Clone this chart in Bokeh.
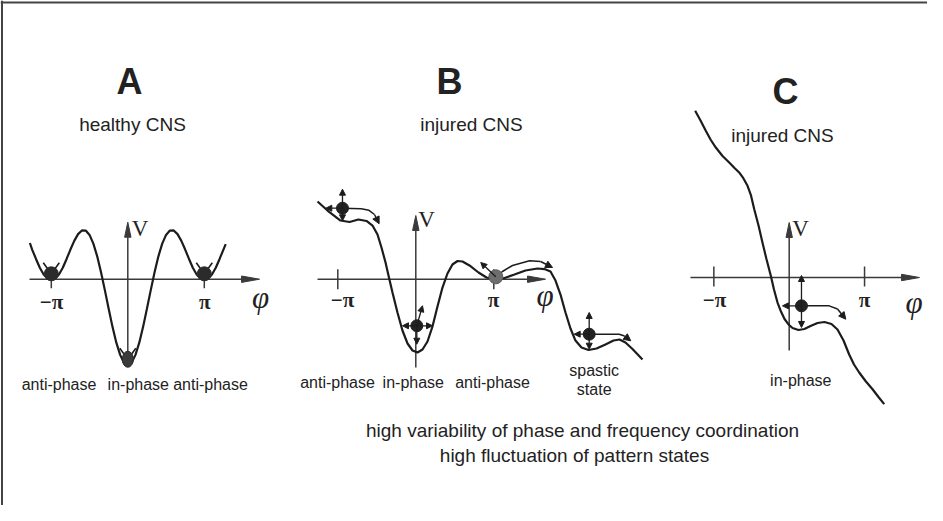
from bokeh.plotting import figure
from bokeh.models import Range1d, Arrow, NormalHead, Span
from bokeh.embed import file_html
from bokeh.resources import INLINE
from bokeh.core.properties import value

# ---------------- data (phi in units of pi, V in arbitrary units) ----------------
# Panel A: healthy CNS
A_phi = [-1.28, -1.25, -1.2, -1.15, -1.1, -1.05, -1.0, -0.95, -0.9, -0.85, -0.8, -0.75, -0.7,
         -0.65, -0.6, -0.55, -0.5, -0.45, -0.4, -0.35, -0.3, -0.25, -0.2, -0.15, -0.1, -0.05,
         0.0, 0.05, 0.1, 0.15, 0.2, 0.25, 0.3, 0.35, 0.4, 0.45, 0.5, 0.55, 0.6, 0.65, 0.7,
         0.75, 0.8, 0.85, 0.9, 0.95, 1.0, 1.05, 1.1, 1.15, 1.2, 1.25, 1.28]
A_V = [0.47, 0.385, 0.263, 0.148, 0.06, 0.01, 0.0, 0.01, 0.06, 0.148, 0.263, 0.385, 0.498,
       0.585, 0.633, 0.632, 0.575, 0.462, 0.297, 0.091, -0.142, -0.385, -0.619, -0.824, -0.983,
       -1.085, -1.12, -1.085, -0.983, -0.824, -0.619, -0.385, -0.142, 0.091, 0.297, 0.462,
       0.575, 0.632, 0.633, 0.585, 0.498, 0.385, 0.263, 0.148, 0.06, 0.01, 0.0, 0.01, 0.06,
       0.148, 0.263, 0.385, 0.456]
A_states_phi = [-1.0, 1.0]
A_states_V = [0.07, 0.07]
A_inphase_phi = [0.0]
A_inphase_V = [-1.04]

# Panel B: injured CNS
B_phi = [-1.26, -1.132, -0.965, -0.85, -0.735, -0.632, -0.555, -0.491, -0.44, -0.388, -0.35,
         -0.299, -0.235, -0.171, -0.106, -0.042, 0.022, 0.086, 0.15, 0.214, 0.278, 0.342,
         0.406, 0.47, 0.535, 0.599, 0.688, 0.804, 0.906, 1.022, 1.137, 1.265, 1.406, 1.56,
         1.65, 1.727, 1.791, 1.855, 1.919, 1.983, 2.047, 2.124, 2.214, 2.317, 2.432, 2.535,
         2.612, 2.688, 2.778, 2.906]
B_V = [1.009, 0.892, 0.762, 0.743, 0.775, 0.756, 0.697, 0.581, 0.412, 0.217, 0.048, -0.173,
       -0.432, -0.666, -0.835, -0.926, -0.952, -0.913, -0.809, -0.614, -0.355, -0.108, 0.074,
       0.191, 0.236, 0.23, 0.178, 0.087, 0.022, -0.004, 0.016, 0.061, 0.113, 0.139, 0.132,
       0.1, -0.017, -0.199, -0.432, -0.64, -0.797, -0.887, -0.919, -0.9, -0.848, -0.796,
       -0.783, -0.822, -0.906, -1.043]
B_balls_phi = [-0.94, 0.013, 2.223]
B_balls_V = [0.922, -0.605, -0.714]
B_grey_phi = [1.026]
B_grey_V = [0.031]
# perturbation arrows: start phi, start V, end phi, end V
B_arr_x0 = [-0.94, -0.94, -0.94, 0.013, 0.013, 0.013, 0.013, 1.026, 2.223, 2.223, 2.223]
B_arr_y0 = [0.922, 0.922, 0.922, -0.605, -0.605, -0.605, -0.605, 0.031, -0.714, -0.714, -0.714]
B_arr_x1 = [-0.94, -0.94, -1.154, -0.171, 0.214, 0.013, 0.086, 0.833, 2.223, 2.223, 2.031]
B_arr_y1 = [1.169, 0.758, 0.922, -0.605, -0.605, -0.844, -0.345, 0.217, -0.432, -0.909, -0.714]
# escape trajectories
B_traj1_phi = [-0.94, -0.70, -0.60, -0.53, -0.47]
B_traj1_V = [0.922, 0.915, 0.895, 0.84, 0.72]
B_traj2_phi = [1.026, 1.111, 1.24, 1.458, 1.60, 1.753]
B_traj2_V = [0.031, 0.10, 0.178, 0.239, 0.23, 0.152]
B_traj3_phi = [2.223, 2.608, 2.676, 2.756]
B_traj3_V = [-0.714, -0.714, -0.738, -0.80]

# Panel C: injured CNS
C_phi = [-1.248, -1.177, -1.107, -1.044, -0.974, -0.885, -0.796, -0.726, -0.664, -0.607,
         -0.553, -0.507, -0.464, -0.407, -0.355, -0.302, -0.244, -0.202, -0.155, -0.109,
         -0.062, -0.009, 0.044, 0.123, 0.202, 0.283, 0.376, 0.468, 0.561, 0.641, 0.721,
         0.796, 0.86, 0.929, 1.013, 1.106, 1.185, 1.261]
C_V = [2.165, 2.039, 1.905, 1.792, 1.688, 1.578, 1.494, 1.422, 1.364, 1.286, 1.191, 1.065,
       0.887, 0.675, 0.455, 0.24, 0.022, -0.156, -0.325, -0.442, -0.539, -0.61, -0.656,
       -0.682, -0.669, -0.63, -0.591, -0.578, -0.604, -0.675, -0.818, -1.0, -1.13, -1.234,
       -1.344, -1.451, -1.552, -1.645]
C_balls_phi = [0.163]
C_balls_V = [-0.368]
C_arr_x0 = [0.163, 0.163, 0.163]
C_arr_y0 = [-0.368, -0.368, -0.368]
C_arr_x1 = [0.163, 0.163, -0.089]
C_arr_y1 = [0.026, -0.649, -0.368]
C_traj_phi = [0.163, 0.531, 0.641, 0.751]
C_traj_V = [-0.368, -0.368, -0.409, -0.542]

tick_phi = [-1, 1]
tick_labels = ["\u2212\u03c0", "\u03c0"]

panel_letters = ["A", "B", "C"]
panel_titles = ["healthy CNS", "injured CNS", "injured CNS"]
A_state_labels = ["anti-phase", "in-phase", "anti-phase"]
B_state_labels = ["anti-phase", "in-phase", "anti-phase"]
B_spastic_label = ["spastic", "state"]
C_state_labels = ["in-phase"]
footer_lines = ["high variability of phase and frequency coordination",
                "high fluctuation of pattern states"]

# ---------------- layout / style ----------------
W, H = 927, 505
INK = "#1c1c1c"
AXC = "#3a3a3a"
TXT = "#222222"
SANS = "Liberation Sans"
SERIF = "Liberation Serif"

# panel geometry: pixel position of origin (in page coords) and pixels per unit
GEO = {
    "A": dict(ox=135.3, oy=286.7, sx=76.5, sy=77.0,
              hx=(-1.285, 1.722), vy=(-1.06, 0.74)),
    "B": dict(ox=423.3, oy=286.7, sx=78.0, sy=77.0,
              hx=(-1.26, 1.663), vy=(-1.147, 0.827)),
    "C": dict(ox=796.7, oy=285.0, sx=75.35, sy=77.0,
              hx=(-1.31, 1.729), vy=(-0.948, 0.714)),
}

p = figure(width=W, height=H, x_range=Range1d(8, 8 + W), y_range=Range1d(8 + H, 8),
           output_backend="svg", toolbar_location=None, min_border=0,
           x_axis_location=None, y_axis_location=None,
           outline_line_color=None, background_fill_color="white",
           border_fill_color="white")
p.grid.visible = False

for k, g in GEO.items():
    p.extra_x_ranges[k] = Range1d((8 - g["ox"]) / g["sx"], (8 + W - g["ox"]) / g["sx"])
    p.extra_y_ranges[k] = Range1d((g["oy"] - 8 - H) / g["sy"], (g["oy"] - 8) / g["sy"])

# page frame (top and left edges)
p.add_layout(Span(location=10, dimension="width", line_color="#444444", line_width=2))
p.add_layout(Span(location=9.5, dimension="height", line_color="#444444", line_width=2))


def axes(name):
    g = GEO[name]
    sx, sy = g["sx"], g["sy"]
    x0, x1 = g["hx"]
    v0, v1 = g["vy"]
    L, hw = 18.0, 3.2
    p.line([x0, x1 - L / sx], [0, 0], x_range_name=name, y_range_name=name,
           line_color=AXC, line_width=1.5)
    p.patch([x1, x1 - L / sx, x1 - L / sx], [0, hw / sy, -hw / sy],
            x_range_name=name, y_range_name=name, color=AXC, line_width=1)
    Lv = 15.0
    p.line([0, 0], [v0, v1 - Lv / sy], x_range_name=name, y_range_name=name,
           line_color=AXC, line_width=1.5)
    p.patch([0, hw / sx, -hw / sx], [v1, v1 - Lv / sy, v1 - Lv / sy],
            x_range_name=name, y_range_name=name, color=AXC, line_width=1)


def ticks(name, top, bottom):
    sy = GEO[name]["sy"]
    p.segment(x0=tick_phi, y0=[top / sy] * len(tick_phi), x1=tick_phi,
              y1=[-bottom / sy] * len(tick_phi), x_range_name=name, y_range_name=name,
              line_color=AXC, line_width=1.5)


def arrows(name, xs0, ys0, xs1, ys1, size=6):
    for a, b, c, d in zip(xs0, ys0, xs1, ys1):
        p.add_layout(Arrow(x_start=a, y_start=b, x_end=c, y_end=d,
                           x_range_name=name, y_range_name=name,
                           line_color=INK, line_width=1.3,
                           end=NormalHead(size=size, fill_color=INK, line_color=INK,
                                          line_width=1)))


def trajectory(name, xs, ys):
    p.line(xs[:-1], ys[:-1], x_range_name=name, y_range_name=name,
           line_color=INK, line_width=1.5)
    p.add_layout(Arrow(x_start=xs[-2], y_start=ys[-2], x_end=xs[-1], y_end=ys[-1],
                       x_range_name=name, y_range_name=name,
                       line_color=INK, line_width=1.5,
                       end=NormalHead(size=7, fill_color=INK, line_color=INK, line_width=1)))


for k in GEO:
    axes(k)
ticks("A", 0, 9)
ticks("B", 10, 10)
ticks("C", 11, 9)

# potential curves
p.line(A_phi, A_V, x_range_name="A", y_range_name="A", line_color=INK, line_width=2.2)
p.line(B_phi, B_V, x_range_name="B", y_range_name="B", line_color=INK, line_width=2.2)
p.line(C_phi, C_V, x_range_name="C", y_range_name="C", line_color=INK, line_width=2.2)

# panel A states (balls with small ears)
gA = GEO["A"]
ear_x0, ear_y0, ear_x1, ear_y1 = [], [], [], []
for bx, by in zip(A_states_phi + A_inphase_phi, A_states_V + A_inphase_V):
    for s in (-1, 1):
        ear_x0.append(bx + s * 3 / gA["sx"])
        ear_y0.append(by + 4 / gA["sy"])
        ear_x1.append(bx + s * 8 / gA["sx"])
        ear_y1.append(by + 11 / gA["sy"])
p.segment(ear_x0, ear_y0, ear_x1, ear_y1, x_range_name="A", y_range_name="A",
          line_color=INK, line_width=1.6)
p.scatter(A_states_phi, A_states_V, x_range_name="A", y_range_name="A", size=14,
          fill_color="#2b2b2b", line_color="#2b2b2b")
p.ellipse(x=A_inphase_phi, y=A_inphase_V, width=11, height=16, width_units="screen",
          height_units="screen", x_range_name="A", y_range_name="A",
          fill_color="#3a3a3a", line_color="#2b2b2b")

# panel B
arrows("B", B_arr_x0, B_arr_y0, B_arr_x1, B_arr_y1)
trajectory("B", B_traj1_phi, B_traj1_V)
trajectory("B", B_traj2_phi, B_traj2_V)
trajectory("B", B_traj3_phi, B_traj3_V)
p.scatter(B_balls_phi, B_balls_V, x_range_name="B", y_range_name="B", size=12,
          fill_color="#222222", line_color="#222222")
p.scatter(B_grey_phi, B_grey_V, x_range_name="B", y_range_name="B", size=14,
          fill_color="#6e6e6e", line_color="#5a5a5a")

# panel C
arrows("C", C_arr_x0, C_arr_y0, C_arr_x1, C_arr_y1)
trajectory("C", C_traj_phi, C_traj_V)
p.scatter(C_balls_phi, C_balls_V, x_range_name="C", y_range_name="C", size=12,
          fill_color="#222222", line_color="#222222")

# ---------------- texts (page pixel coordinates) ----------------
def txt(xs, ys, texts, size, font=SANS, style="normal", color=TXT):
    p.text(x=xs, y=ys, text=texts, text_font=value(font), text_font_size=value(f"{size}px"),
           text_font_style=value(style), text_color=color, text_align="center",
           text_baseline="middle")

txt([137, 457, 793], [89, 89, 99], panel_letters, 36, style="bold")
txt([140, 479, 790], [132, 132, 143], panel_titles, 19)
txt([66.5, 145.8, 218], [392, 392, 392], A_state_labels, 16)
txt([345, 420.8, 500], [390, 390, 390], B_state_labels, 16)
txt([601.7, 601.7], [378, 396.7], B_spastic_label, 16)
txt([808.3], [388], C_state_labels, 16)
txt([590, 582], [438, 463], footer_lines, 19)

# axis symbols
txt([147.5, 434, 808], [236, 227, 236], ["V", "V", "V"], 23, font=SERIF)
txt([268, 552.5, 921.5], [305, 303, 309.5], ["\u03c6", "\u03c6", "\u03c6"], 31,
    font=SERIF, style="italic")
txt([59, 212.3, 350, 501, 722, 872], [309, 309, 307, 307, 307, 307],
    tick_labels * 3, 21, font=SERIF, style="bold")

open("out.html", "w").write(file_html(p, INLINE))
